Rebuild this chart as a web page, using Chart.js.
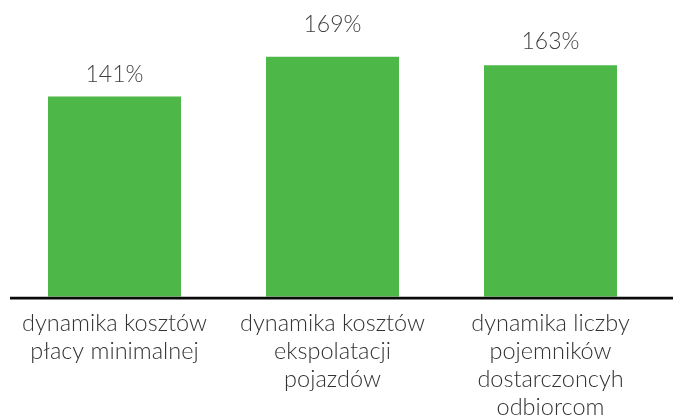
<!DOCTYPE html>
<html>
<head>
<meta charset="utf-8">
<script src="https://cdn.jsdelivr.net/npm/chart.js@4/dist/chart.umd.min.js"></script>
<style>
  html, body { margin: 0; padding: 0; background: #ffffff; }
  #wrap { width: 673px; height: 415px; position: relative; }
</style>
</head>
<body>
<div id="wrap"><canvas id="c" width="673" height="415"></canvas></div>
<script>
const categories = [
  ["dynamika kosztów", "płacy minimalnej"],
  ["dynamika kosztów", "ekspolatacji", "pojazdów"],
  ["dynamika liczby", "pojemników", "dostarczoncyh", "odbiorcom"]
];
const values = [141, 169, 163];
const valueLabels = ["141%", "169%", "163%"];

const valueLabelPlugin = {
  id: 'valueLabels',
  afterDatasetsDraw(chart, args, opts) {
    const ctx = chart.ctx;
    const meta = chart.getDatasetMeta(0);
    const gaps = opts.gaps || [];
    ctx.save();
    ctx.font = '300 23px Lato';
    ctx.fillStyle = '#404040';
    ctx.textAlign = 'center';
    ctx.textBaseline = 'alphabetic';
    meta.data.forEach((bar, i) => {
      ctx.fillText(valueLabels[i], bar.x, bar.y - (gaps[i] ?? 14));
    });
    ctx.restore();
  }
};

const axisLinePlugin = {
  id: 'axisLine',
  afterDatasetsDraw(chart) {
    const ctx = chart.ctx;
    const y = chart.chartArea.bottom;
    ctx.save();
    ctx.strokeStyle = '#0a0a0a';
    ctx.lineWidth = 2.6;
    ctx.beginPath();
    ctx.moveTo(chart.chartArea.left + 4.5, y + 1.4);
    ctx.lineTo(chart.width, y + 1.4);
    ctx.stroke();
    ctx.restore();
  }
};

new Chart(document.getElementById('c'), {
  type: 'bar',
  data: {
    labels: categories,
    datasets: [{
      data: values,
      backgroundColor: '#4DB848',
      borderWidth: 0,
      barPercentage: 0.61,
      categoryPercentage: 1.0
    }]
  },
  options: {
    responsive: false,
    animation: false,
    devicePixelRatio: 1,
    layout: { padding: { left: 5.5, right: 13.5, top: 12.7, bottom: 0 } },
    plugins: {
      legend: { display: false },
      tooltip: { enabled: false },
      valueLabels: { gaps: [14, 25, 16] }
    },
    scales: {
      y: { display: false, min: 0, max: 200 },
      x: {
        grid: { display: false, drawTicks: false },
        border: { display: false },
        ticks: {
          color: '#333333',
          font: { family: 'Lato', size: 23.5, weight: '300', lineHeight: 1.19 },
          padding: 13,
          maxRotation: 0,
          autoSkip: false
        },
        afterFit(scale) { scale.height = 415 - 296.7; }
      }
    }
  },
  plugins: [valueLabelPlugin, axisLinePlugin]
});
</script>
</body>
</html>
